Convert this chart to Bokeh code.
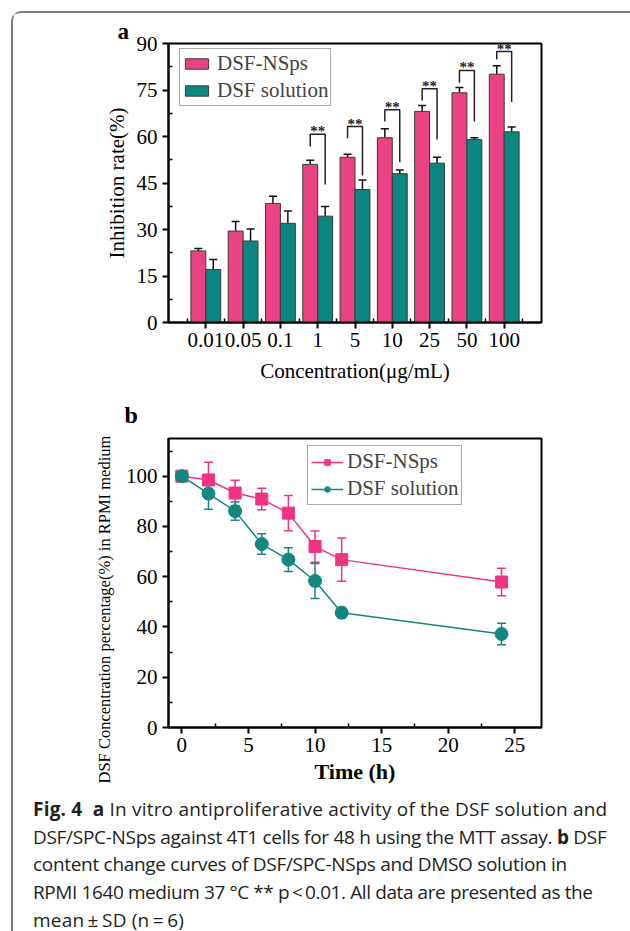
import numpy as np
from bokeh.plotting import figure
from bokeh.models import (ColumnDataSource, Whisker, TeeHead, FixedTicker, Legend,
                          LegendItem, Title, Div, Range1d)
from bokeh.layouts import column
from bokeh.embed import file_html
from bokeh.resources import INLINE
from bokeh.core.properties import value

# ---------------- Panel a data ----------------
concentrations = ["0.01", "0.05", "0.1", "1", "5", "10", "25", "50", "100"]
nsps_rate = [23.1, 29.5, 38.4, 51.0, 53.3, 59.6, 68.1, 74.1, 80.1]
nsps_sd = [0.8, 3.1, 2.3, 1.3, 1.0, 2.9, 1.9, 1.7, 2.7]
sol_rate = [17.1, 26.3, 32.0, 34.3, 42.9, 48.0, 51.4, 59.0, 61.5]
sol_sd = [3.2, 3.9, 4.0, 3.1, 3.1, 1.2, 1.9, 0.6, 1.6]
rate_ticks = [0, 15, 30, 45, 60, 75, 90]

# significance brackets (** p<0.01)
sig_conc = ["1", "5", "10", "25", "50", "100"]
sig_top = [60.7, 63.2, 68.6, 75.4, 81.3, 87.4]
sig_left_bottom = [56.8, 59.4, 64.8, 71.6, 77.3, 84.8]
sig_right_bottom = [44.5, 47.4, 51.7, 59.0, 64.8, 71.1]

# ---------------- Panel b data ----------------
time_h = [0, 2, 4, 6, 8, 10, 12, 24]
nsps_pct = [100, 98.5, 93.3, 90.9, 85.3, 72.0, 66.8, 57.9]
nsps_pct_sd = [0, 7.0, 5.1, 4.3, 7.0, 6.2, 8.6, 5.5]
sol_pct = [100, 93.1, 86.1, 73.0, 66.8, 58.3, 45.7, 37.2]
sol_pct_sd = [0, 6.3, 3.6, 4.1, 4.7, 7.0, 2.1, 4.3]
pct_ticks = [0, 20, 40, 60, 80, 100]
time_ticks = [0, 5, 10, 15, 20, 25]

caption_lines = [
    "<b>Fig.&nbsp;4</b>&nbsp;&nbsp;<b>a</b> In vitro antiproliferative activity of the DSF solution and",
    "DSF/SPC-NSps against 4T1 cells for 48 h using the MTT assay. <b>b</b> DSF",
    "content change curves of DSF/SPC-NSps and DMSO solution in",
    "RPMI 1640 medium 37 \u00b0C ** p\u2009&lt;\u20090.01. All data are presented as the",
    "mean\u2009\u00b1\u2009SD (n\u2009=\u20096)",
]
caption_spacing = [0.2, -0.3, -0.3, -0.4, 0.2]

PINK_A = "#EA4282"
TEAL_A = "#0C877F"
PINK_B = "#EF3484"
TEAL_B = "#13877F"
SERIF = "Liberation Serif"


def style_axes(p, label_size="21px"):
    for ax in list(p.xaxis) + list(p.yaxis):
        ax.axis_line_width = 2
        ax.axis_line_color = "black"
        ax.major_tick_line_width = 2
        ax.major_tick_line_color = "black"
        ax.minor_tick_line_width = 1.5
        ax.minor_tick_line_color = "black"
        ax.major_tick_out = 6
        ax.major_tick_in = 0
        ax.minor_tick_out = 0
        ax.minor_tick_in = 4
        ax.major_label_text_font = SERIF
        ax.major_label_text_font_size = label_size
        ax.major_label_text_color = "black"
        ax.axis_label_text_font = SERIF
        ax.axis_label_text_font_style = "normal"
        ax.axis_label_text_color = "black"
    p.xgrid.grid_line_color = None
    p.ygrid.grid_line_color = None
    p.outline_line_color = "black"
    p.outline_line_width = 2
    p.outline_line_alpha = 1


# ================= Panel a =================
xpos = np.arange(1, len(concentrations) + 1, dtype=float)
pa = figure(width=614, height=375, x_range=Range1d(0, 10), y_range=Range1d(0, 90),
            output_backend="svg", toolbar_location=None,
            min_border_left=155, min_border_right=86, min_border_top=30, min_border_bottom=66)
pa.title = Title(text="a", align="left", offset=-51, standoff=0, text_font=SERIF,
                 text_font_style="bold", text_font_size="23px", text_color="black")

src_n = ColumnDataSource(dict(x=xpos - 0.2, top=nsps_rate,
                              upper=np.array(nsps_rate) + np.array(nsps_sd),
                              lower=np.array(nsps_rate) - np.array(nsps_sd)))
src_s = ColumnDataSource(dict(x=xpos + 0.2, top=sol_rate,
                              upper=np.array(sol_rate) + np.array(sol_sd),
                              lower=np.array(sol_rate) - np.array(sol_sd)))
r_n = pa.vbar(x="x", top="top", width=0.4, source=src_n, fill_color=PINK_A,
              line_color="#3a3a3a", line_width=1)
r_s = pa.vbar(x="x", top="top", width=0.4, source=src_s, fill_color=TEAL_A,
              line_color="#3a3a3a", line_width=1)
for s in (src_n, src_s):
    w = Whisker(source=s, base="x", upper="upper", lower="lower", line_color="#111111",
                line_width=1.5,
                upper_head=TeeHead(size=8, line_color="#111111", line_width=1.5),
                lower_head=TeeHead(size=8, line_color="#111111", line_width=1.5))
    pa.add_layout(w)

# significance brackets
sig_x = np.array([xpos[concentrations.index(c)] for c in sig_conc])
xs = [[x - 0.2, x - 0.2, x + 0.2, x + 0.2] for x in sig_x]
ys = [[lb, t, t, rb] for lb, t, rb in zip(sig_left_bottom, sig_top, sig_right_bottom)]
pa.multi_line(xs=xs, ys=ys, line_color="#222222", line_width=1.5)
pa.text(x=sig_x, y=sig_top, text=["**"] * len(sig_x), text_align="center",
        text_baseline="alphabetic", y_offset=-3, text_font=value(SERIF),
        text_font_size="15px", text_font_style="bold", text_color="#222222")

pa.xaxis.ticker = FixedTicker(ticks=list(xpos), minor_ticks=list(np.append(xpos - 0.5, xpos[-1] + 0.5)))
pa.xaxis.major_label_overrides = {float(x): c for x, c in zip(xpos, concentrations)}
pa.yaxis.ticker = FixedTicker(ticks=rate_ticks,
                              minor_ticks=[t + 7.5 for t in rate_ticks[:-1]])
pa.xaxis.axis_label = "Concentration(\u03bcg/mL)"
pa.yaxis.axis_label = "Inhibition rate(%)"
style_axes(pa)
pa.xaxis.axis_label_text_font_size = "21px"
pa.yaxis.axis_label_text_font_size = "21px"
pa.xaxis.major_label_standoff = 4
pa.xaxis.axis_label_standoff = 9
pa.yaxis.major_label_standoff = 5
pa.yaxis.axis_label_standoff = 5

leg_a = Legend(items=[LegendItem(label="DSF-NSps", renderers=[r_n]),
                      LegendItem(label="DSF solution", renderers=[r_s])],
               location=(11, 216), margin=0, padding=2, spacing=2,
               glyph_width=29, glyph_height=13, label_standoff=6,
               label_text_font=SERIF, label_text_font_size="21px",
               border_line_color="#555555", border_line_width=1,
               background_fill_alpha=1)
pa.add_layout(leg_a)

# ================= Panel b =================
pb = figure(width=614, height=402, x_range=Range1d(-1, 27), y_range=Range1d(0, 115),
            output_backend="svg", toolbar_location=None,
            min_border_left=149, min_border_right=86, min_border_top=49, min_border_bottom=63)
pb.title = Title(text="b", align="left", offset=-44, standoff=22, text_font=SERIF,
                 text_font_style="bold", text_font_size="24px", text_color="black")

src_bn = ColumnDataSource(dict(x=time_h, y=nsps_pct,
                               upper=np.array(nsps_pct) + np.array(nsps_pct_sd),
                               lower=np.array(nsps_pct) - np.array(nsps_pct_sd)))
src_bs = ColumnDataSource(dict(x=time_h, y=sol_pct,
                               upper=np.array(sol_pct) + np.array(sol_pct_sd),
                               lower=np.array(sol_pct) - np.array(sol_pct_sd)))

l_n = pb.line("x", "y", source=src_bn, line_color=PINK_B, line_width=1.5)
l_s = pb.line("x", "y", source=src_bs, line_color=TEAL_B, line_width=1.5)
for s, col in ((src_bn, PINK_B), (src_bs, TEAL_B)):
    w = Whisker(source=s, base="x", upper="upper", lower="lower", line_color=col,
                line_width=1.5, level="underlay",
                upper_head=TeeHead(size=9, line_color=col, line_width=1.5),
                lower_head=TeeHead(size=9, line_color=col, line_width=1.5))
    pb.add_layout(w)
m_n = pb.scatter("x", "y", source=src_bn, marker="square", size=12,
                 fill_color=PINK_B, line_color=PINK_B)
m_s = pb.scatter("x", "y", source=src_bs, marker="circle", size=13,
                 fill_color=TEAL_B, line_color=TEAL_B)

pb.xaxis.ticker = FixedTicker(ticks=time_ticks, minor_ticks=[t + 2.5 for t in time_ticks[:-1]])
pb.yaxis.ticker = FixedTicker(ticks=pct_ticks, minor_ticks=[t + 10 for t in pct_ticks])
pb.xaxis.axis_label = "Time (h)"
style_axes(pb)
pb.xaxis.axis_label_text_font_size = "22px"
pb.xaxis.axis_label_text_font_style = "bold"
pb.xaxis.major_label_standoff = 4
pb.xaxis.axis_label_standoff = 4
pb.yaxis.major_label_standoff = 5

pb.add_layout(Title(text="DSF Concentration percentage(%) in RPMI medium", align="left",
                    offset=-56, standoff=18, text_font=SERIF, text_font_style="normal",
                    text_font_size="16.5px", text_color="black"), "left")

leg_b = Legend(items=[LegendItem(label="DSF-NSps", renderers=[l_n, m_n]),
                      LegendItem(label="DSF solution", renderers=[l_s, m_s])],
               location=(139, 222), margin=0, padding=3, spacing=2,
               glyph_width=32, glyph_height=14, label_standoff=4,
               label_text_font=SERIF, label_text_font_size="21px",
               border_line_color="#555555", border_line_width=1,
               background_fill_alpha=1)
pb.add_layout(leg_b)

# ================= Caption =================
caption_html = "".join(
    f'<div style="letter-spacing:{ls}px">{line}</div>'
    for line, ls in zip(caption_lines, caption_spacing))
caption = Div(
    text=('<div style="font-family:\'Open Sans\',sans-serif;font-size:19px;line-height:27.7px;'
          'color:#231f20;padding:0 0 0 15px;margin-top:1px;white-space:nowrap">'
          + caption_html + "</div>"),
    width=614, height=138)

layout = column(pa, pb, caption, margin=(11, 0, 0, 11),
                styles={"border": "2px solid #7a7a7a", "border-radius": "10px"})

open("out.html", "w").write(file_html(layout, INLINE))
